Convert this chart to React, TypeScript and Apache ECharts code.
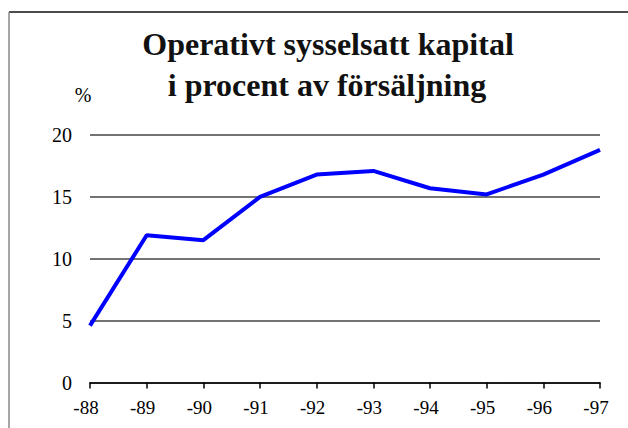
import React, { useEffect, useRef } from "react";
import * as echarts from "echarts";

const categories = ["-88", "-89", "-90", "-91", "-92", "-93", "-94", "-95", "-96", "-97"];
const values = [4.6, 11.9, 11.5, 15.0, 16.8, 17.1, 15.7, 15.2, 16.8, 18.8];
const titleLines = ["Operativt sysselsatt kapital", "i procent av försäljning"];
const unitLabel = "%";

const FONT = "Liberation Serif";

export default function App() {
  const ref = useRef<HTMLDivElement>(null);
  useEffect(() => {
    if (!ref.current) return;
    const chart = echarts.init(ref.current, null, { renderer: "svg" });
    chart.setOption({
      animation: false,
      backgroundColor: "#ffffff",
      grid: { left: 90, right: 28, top: 135, bottom: 45.5, containLabel: false },
      xAxis: {
        type: "category",
        data: categories,
        boundaryGap: false,
        axisLine: { show: true, lineStyle: { color: "#000", width: 1.5 } },
        axisTick: { show: true, length: 6, lineStyle: { color: "#000", width: 1.5 } },
        axisLabel: { color: "#000", fontFamily: FONT, fontSize: 19, margin: 15, padding: [0, 8, 0, 0] },
        splitLine: { show: false },
      },
      yAxis: {
        type: "value",
        min: 0,
        max: 20,
        interval: 5,
        axisLine: { show: false },
        axisTick: { show: false },
        axisLabel: { color: "#000", fontFamily: FONT, fontSize: 20, margin: 18 },
        splitLine: { show: true, lineStyle: { color: "#444", width: 1.5 } },
      },
      series: [
        {
          type: "line",
          data: values,
          symbol: "none",
          lineStyle: { color: "#0000ff", width: 4 },
          z: 5,
        },
      ],
      graphic: [
        { type: "line", shape: { x1: 9, y1: 12, x2: 640, y2: 12 }, style: { stroke: "#111", lineWidth: 1.5 } },
        { type: "line", shape: { x1: 9, y1: 12, x2: 9, y2: 440 }, style: { stroke: "#888", lineWidth: 1.5 } },
        {
          type: "text",
          x: 328,
          y: 44,
          style: { text: titleLines[0], fontFamily: FONT, fontWeight: "bold", fontSize: 32, fill: "#111", align: "center", verticalAlign: "middle" },
        },
        {
          type: "text",
          x: 327,
          y: 85,
          style: { text: titleLines[1], fontFamily: FONT, fontWeight: "bold", fontSize: 32, fill: "#111", align: "center", verticalAlign: "middle" },
        },
        {
          type: "text",
          x: 83,
          y: 95,
          style: { text: unitLabel, fontFamily: FONT, fontSize: 20, fill: "#000", align: "center", verticalAlign: "middle" },
        },
      ],
    });
    return () => chart.dispose();
  }, []);
  return <div ref={ref} style={{ position: "fixed", left: 0, top: 0, width: 628, height: 428 }} />;
}
